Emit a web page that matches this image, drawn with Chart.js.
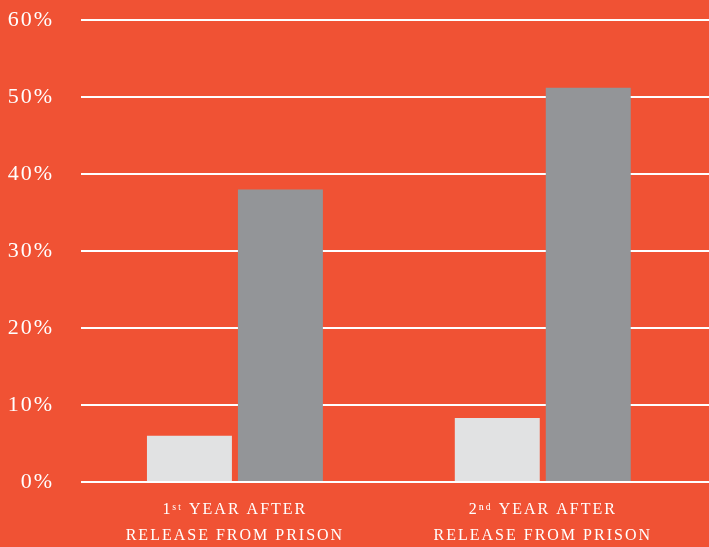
<!DOCTYPE html>
<html lang="en">
<head>
    <meta charset="UTF-8">
    <title>Recidivism after release from prison</title>
    <style>
        html, body {
            margin: 0;
            padding: 0;
            background-color: #F05234;
        }
        #chart-container {
            width: 709px;
            height: 547px;
            position: relative;
        }
    </style>
    <script src="https://cdn.jsdelivr.net/npm/chart.js"></script>
</head>
<body>
    <div id="chart-container">
        <canvas id="myChart"></canvas>
    </div>

    <script>
        // data
        const categories = [
            ['1ˢᵗ YEAR AFTER', 'RELEASE FROM PRISON'],
            ['2ⁿᵈ YEAR AFTER', 'RELEASE FROM PRISON']
        ];
        const lightValues = [6, 8.3];
        const darkValues = [38, 51.2];
        const yTicks = [0, 10, 20, 30, 40, 50, 60];

        const toPoints = arr => arr.map((v, i) => ({ x: i, y: v }));

        // wider spacing between letters, like the original type
        const spacing = {
            id: 'spacing',
            beforeDraw(chart) {
                chart.ctx.letterSpacing = '2px';
            }
        };

        const ctx = document.getElementById('myChart').getContext('2d');
        new Chart(ctx, {
            type: 'bar',
            data: {
                datasets: [{
                    data: toPoints(lightValues),
                    backgroundColor: '#E1E2E3'
                }, {
                    data: toPoints(darkValues),
                    backgroundColor: '#939598'
                }]
            },
            options: {
                responsive: true,
                maintainAspectRatio: false,
                animation: false,
                categoryPercentage: 0.591,
                barPercentage: 0.934,
                layout: { padding: 0 },
                plugins: {
                    legend: { display: false },
                    tooltip: { enabled: false }
                },
                scales: {
                    x: {
                        type: 'linear',
                        offset: false,
                        min: -0.5,
                        max: 1.54,
                        afterBuildTicks: axis => {
                            axis.ticks = categories.map((c, i) => ({ value: i }));
                        },
                        afterFit: axis => { axis.height = 65; },
                        grid: { display: false, drawTicks: false },
                        border: { display: false },
                        ticks: {
                            autoSkip: false,
                            maxRotation: 0,
                            padding: 15,
                            color: '#FFFFFF',
                            font: { family: '"Liberation Serif", serif', size: 16, lineHeight: 1.6 },
                            callback: v => categories[v]
                        }
                    },
                    y: {
                        min: 0,
                        max: 60,
                        afterBuildTicks: axis => {
                            axis.ticks = yTicks.map(v => ({ value: v }));
                        },
                        afterFit: axis => {
                            axis.width = 81;
                            axis.paddingTop = 20;
                        },
                        grid: { color: '#FFFFFF', lineWidth: 2, drawTicks: false },
                        border: { display: false },
                        ticks: {
                            padding: 27,
                            color: '#FFFFFF',
                            font: { family: '"Liberation Serif", serif', size: 22 },
                            callback: v => v + '%'
                        }
                    }
                }
            },
            plugins: [spacing]
        });
    </script>
</body>
</html>
